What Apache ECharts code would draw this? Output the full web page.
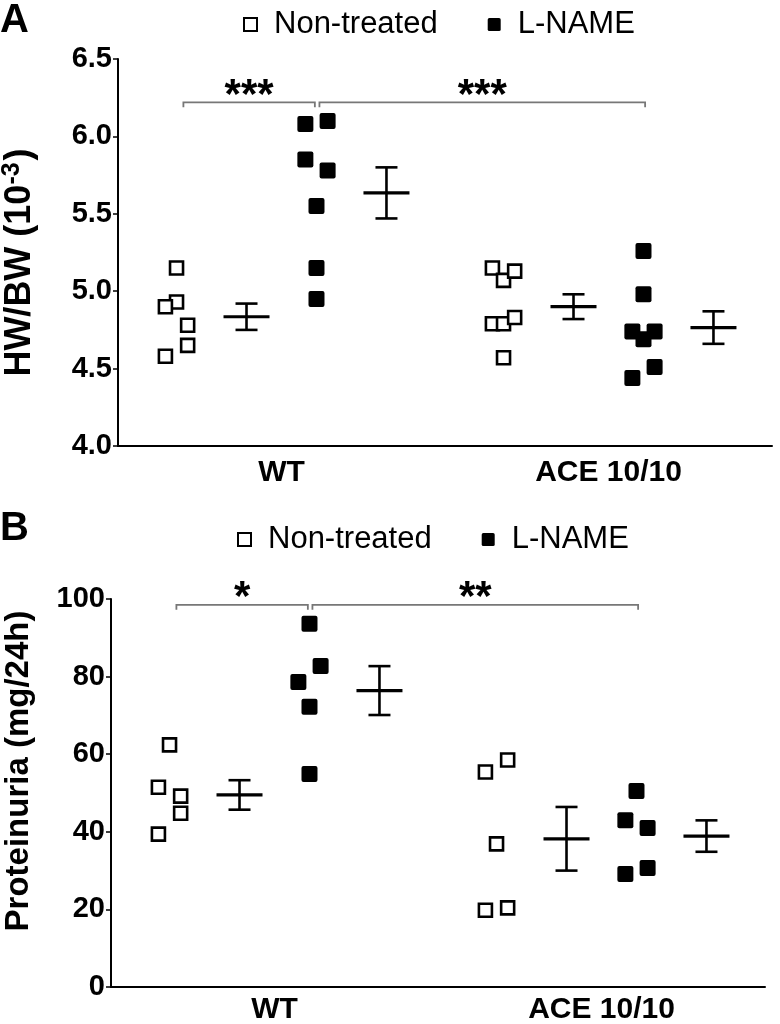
<!DOCTYPE html>
<html><head><meta charset="utf-8">
<script src="https://cdn.jsdelivr.net/npm/echarts@6/dist/echarts.min.js"></script>
<style>html,body{margin:0;padding:0;background:#fff}#c{width:780px;height:1024px}</style>
</head><body><div id="c"></div>
<script>
// ---------- data ----------
const categories = ['WT', 'ACE 10/10'];
const legendNames = ['Non-treated', 'L-NAME'];

// Panel A: HW/BW (10^-3)
const hwTicks = [4.0, 4.5, 5.0, 5.5, 6.0, 6.5];
const hwWtNonTreated = [5.15, 4.93, 4.90, 4.78, 4.65, 4.58];
const hwWtNonTreatedJitter = [0, 0, -1, 1, 1, -1];
const hwWtLname = [6.08, 6.10, 5.85, 5.78, 5.55, 5.15, 4.95];
const hwWtLnameJitter = [-1, 1, -1, 1, 0, 0, 0];
const hwAceNonTreated = [5.15, 5.07, 5.13, 4.79, 4.79, 4.83, 4.57];
const hwAceNonTreatedJitter = [-1, 0, 1, -1, 0, 1, 0];
const hwAceLname = [5.26, 4.98, 4.74, 4.74, 4.69, 4.51, 4.44];
const hwAceLnameJitter = [0, 0, -1, 1, 0, 1, -1];
// mean and SEM: WT non-treated, WT L-NAME, ACE non-treated, ACE L-NAME
const hwMean = [4.835, 5.635, 4.90, 4.765];
const hwSem = [0.085, 0.165, 0.08, 0.105];
const hwSig = ['***', '***'];
const hwSigLevel = 6.22;

// Panel B: Proteinuria (mg/24h)
const protTicks = [0, 20, 40, 60, 80, 100];
const protWtNonTreated = [62.4, 51.5, 49.2, 44.8, 39.4];
const protWtNonTreatedJitter = [0, -1, 1, 1, -1];
const protWtLname = [93.6, 82.7, 78.6, 72.2, 54.9];
const protWtLnameJitter = [0, 1, -1, 0, 0];
const protAceNonTreated = [55.4, 58.5, 36.9, 19.8, 20.4];
const protAceNonTreatedJitter = [-1, 1, 0, -1, 1];
const protAceLname = [50.5, 43.0, 41.0, 29.1, 30.7];
const protAceLnameJitter = [0, -1, 1, -1, 1];
const protMean = [49.5, 76.4, 38.2, 38.9];
const protSem = [3.8, 6.3, 8.2, 4.05];
const protSig = ['*', '**'];
const protSigLevel = 98.5;

// ---------- layout helpers (positions within a category, category units) ----------
const OFF_NT_PTS = -0.321, OFF_NT_MEAN = -0.107, OFF_LN_PTS = 0.107, OFF_LN_MEAN = 0.321;
const JIT = 0.034;
const BRACKETS = [[0.2, 0.602], [0.616, 1.612]];
const FONT = '"Liberation Sans", Arial, sans-serif';
const FILLED_SQ = 'path://M2,0 H14 Q16,0 16,2 V14 Q16,16 14,16 H2 Q0,16 0,14 V2 Q0,0 2,0 Z';

function pts(vals, jit, cat, off) {
  return vals.map((v, i) => [cat + 0.5 + off + jit[i] * JIT, v]);
}
function meanData(mean, sem) {
  const offs = [[0, OFF_NT_MEAN], [0, OFF_LN_MEAN], [1, OFF_NT_MEAN], [1, OFF_LN_MEAN]];
  return mean.map((m, i) => [offs[i][0] + 0.5 + offs[i][1], m, sem[i]]);
}
function renderMean(params, api) {
  const x = api.value(0), m = api.value(1), s = api.value(2);
  const c = api.coord([x, m]);
  const t = api.coord([x, m + s]);
  const b = api.coord([x, m - s]);
  const st = { stroke: '#000', lineWidth: 2.6 };
  return { type: 'group', children: [
    { type: 'line', shape: { x1: c[0] - 23, y1: c[1], x2: c[0] + 23, y2: c[1] }, style: { stroke: '#000', lineWidth: 3.2 } },
    { type: 'line', shape: { x1: c[0], y1: t[1], x2: c[0], y2: b[1] }, style: st },
    { type: 'line', shape: { x1: c[0] - 11, y1: t[1], x2: c[0] + 11, y2: t[1] }, style: st },
    { type: 'line', shape: { x1: c[0] - 11, y1: b[1], x2: c[0] + 11, y2: b[1] }, style: st }
  ]};
}
function makeBracketRender(labels) {
  return function (params, api) {
    const x1 = api.value(0), x2 = api.value(1), y = api.value(2);
    const p1 = api.coord([x1, y]), p2 = api.coord([x2, y]);
    return { type: 'group', children: [
      { type: 'polyline', shape: { points: [[p1[0], p1[1] + 5], p1, p2, [p2[0], p2[1] + 5]] },
        style: { stroke: '#777', lineWidth: 1.8, fill: null } },
      { type: 'text', style: { text: labels[params.dataIndex], x: (p1[0] + p2[0]) / 2, y: p1[1] - 6,
        align: 'center', verticalAlign: 'middle', fontSize: 42, fontWeight: 'bold', fontFamily: FONT, fill: '#000' } }
    ]};
  };
}

const openStyle = { color: '#fff', borderColor: '#000', borderWidth: 2.6, opacity: 1 };
const fillStyle = { color: '#000', opacity: 1 };

function catAxis(gridIndex, margin) {
  return {
    type: 'category', gridIndex, data: categories, boundaryGap: true,
    axisLine: { lineStyle: { color: '#000', width: 2 } },
    axisTick: { alignWithLabel: true, length: 5, lineStyle: { color: '#000', width: 1.5 } },
    axisLabel: { fontSize: 30, fontWeight: 'bold', fontFamily: FONT, color: '#000', margin }
  };
}
function valXAxis(gridIndex) {
  return { type: 'value', gridIndex, min: 0, max: 2, show: false };
}
function yAx(gridIndex, ticks, digits, name, gap, nameSize, pad) {
  return {
    type: 'value', gridIndex, min: ticks[0], max: ticks[ticks.length - 1],
    interval: ticks[1] - ticks[0],
    name, nameLocation: 'middle', nameGap: gap,
    nameTextStyle: { fontSize: nameSize, fontWeight: 'bold', fontFamily: FONT, color: '#000', padding: pad,
      rich: { sup: { fontSize: 25, fontWeight: 'bold', fontFamily: FONT, color: '#000', verticalAlign: 'top', padding: [0, 2, 16, 0] } } },
    axisLine: { show: true, lineStyle: { color: '#000', width: 2 } },
    axisTick: { show: true, length: 5, lineStyle: { color: '#000', width: 1.5 } },
    splitLine: { show: false },
    axisLabel: { fontSize: 29, fontWeight: 'bold', fontFamily: FONT, color: '#000', margin: 6,
      formatter: v => v.toFixed(digits) }
  };
}
function legend(top, left) {
  return {
    top, left, orient: 'horizontal', itemWidth: 13, itemHeight: 13, itemGap: 50,
    data: legendNames, selectedMode: false,
    textStyle: { fontSize: 31, fontFamily: FONT, color: '#000', padding: [0, 0, 0, 12] }
  };
}

const option = {
  animation: false,
  backgroundColor: '#fff',
  graphic: [
    { type: 'text', left: 0, top: 1, style: { text: 'A', fontSize: 40, fontWeight: 'bold', fontFamily: FONT, fill: '#000' } },
    { type: 'text', left: 0, top: 509, style: { text: 'B', fontSize: 40, fontWeight: 'bold', fontFamily: FONT, fill: '#000' } }
  ],
  legend: [legend(4, 238), legend(519, 232)],
  grid: [
    { left: 118, right: 8, top: 59, height: 387, outerBoundsMode: 'none', containLabel: false },
    { left: 111, right: 15, top: 599, height: 388, outerBoundsMode: 'none', containLabel: false }
  ],
  xAxis: [catAxis(0, 12), valXAxis(0), catAxis(1, 8), valXAxis(1)],
  yAxis: [
    yAx(0, hwTicks, 1, 'HW/BW (10{sup|-3})', 77, 36, [0, 20, 0, 0]),
    yAx(1, protTicks, 0, 'Proteinuria (mg/24h)', 76, 33, [0, 0, 0, 44])
  ],
  series: [
    { name: 'Non-treated', type: 'scatter', xAxisIndex: 1, yAxisIndex: 0, symbol: 'rect', symbolSize: 13,
      itemStyle: openStyle,
      data: pts(hwWtNonTreated, hwWtNonTreatedJitter, 0, OFF_NT_PTS).concat(pts(hwAceNonTreated, hwAceNonTreatedJitter, 1, OFF_NT_PTS)) },
    { name: 'L-NAME', type: 'scatter', xAxisIndex: 1, yAxisIndex: 0, symbol: FILLED_SQ, symbolSize: 16,
      itemStyle: fillStyle,
      data: pts(hwWtLname, hwWtLnameJitter, 0, OFF_LN_PTS).concat(pts(hwAceLname, hwAceLnameJitter, 1, OFF_LN_PTS)) },
    { type: 'custom', xAxisIndex: 1, yAxisIndex: 0, renderItem: renderMean, encode: { x: 0, y: 1 },
      data: meanData(hwMean, hwSem), silent: true },
    { type: 'custom', xAxisIndex: 1, yAxisIndex: 0, renderItem: makeBracketRender(hwSig), encode: { x: [0, 1], y: 2 },
      data: BRACKETS.map(b => [b[0], b[1], hwSigLevel]), silent: true, clip: false },

    { name: 'Non-treated', type: 'scatter', xAxisIndex: 3, yAxisIndex: 1, symbol: 'rect', symbolSize: 13,
      itemStyle: openStyle,
      data: pts(protWtNonTreated, protWtNonTreatedJitter, 0, OFF_NT_PTS).concat(pts(protAceNonTreated, protAceNonTreatedJitter, 1, OFF_NT_PTS)) },
    { name: 'L-NAME', type: 'scatter', xAxisIndex: 3, yAxisIndex: 1, symbol: FILLED_SQ, symbolSize: 16,
      itemStyle: fillStyle,
      data: pts(protWtLname, protWtLnameJitter, 0, OFF_LN_PTS).concat(pts(protAceLname, protAceLnameJitter, 1, OFF_LN_PTS)) },
    { type: 'custom', xAxisIndex: 3, yAxisIndex: 1, renderItem: renderMean, encode: { x: 0, y: 1 },
      data: meanData(protMean, protSem), silent: true },
    { type: 'custom', xAxisIndex: 3, yAxisIndex: 1, renderItem: makeBracketRender(protSig), encode: { x: [0, 1], y: 2 },
      data: BRACKETS.map(b => [b[0], b[1], protSigLevel]), silent: true, clip: false }
  ]
};
const chart = echarts.init(document.getElementById('c'), null, { renderer: 'canvas' });
chart.setOption(option);
</script></body></html>
